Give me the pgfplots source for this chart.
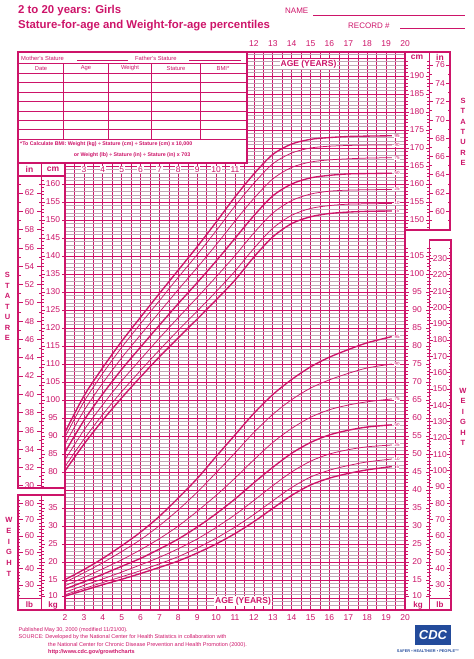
\documentclass[border=0pt]{standalone}
\usepackage{fontspec}
\setmainfont{Liberation Sans}
\usepackage{pgfplots}
\usepackage{pgfplotstable}
\pgfplotsset{compat=1.18}
\definecolor{cdcpink}{RGB}{205,20,105}
\definecolor{gridlt}{RGB}{192,165,182}
\definecolor{cdcblue}{RGB}{35,75,155}
\newcommand\fs[1]{\fontsize{#1}{#1}\selectfont}

% stature-for-age percentiles (cm)
\pgfplotstableread{
age  p5    p10   p25   p50   p75   p90   p95
2    80.3  81.5  83.4  85.5  87.7  89.7  91.0
3    87.7  89.1  91.6  94.3  97.0  99.5  101.1
4    94.4  96.0  98.7  101.7 104.7 107.4 109.0
5    100.6 102.3 105.3 108.5 111.7 114.6 116.3
6    106.4 108.2 111.3 114.7 118.1 121.2 123.0
7    112.0 113.9 117.2 120.8 124.4 127.6 129.6
8    117.3 119.4 122.9 126.8 130.7 134.1 136.1
9    122.5 124.7 128.5 132.6 136.8 140.4 142.6
10   127.8 130.1 134.2 138.6 143.1 147.0 149.4
11   133.3 135.8 140.1 144.9 149.7 153.9 156.4
12   139.7 142.1 146.4 151.2 156.0 160.2 162.8
13   145.3 147.7 151.9 156.7 161.4 165.6 168.2
14   149.0 151.3 155.4 160.0 164.6 168.6 171.1
15   150.9 153.2 157.2 161.7 166.1 170.0 172.4
16   151.8 154.0 158.0 162.4 166.7 170.5 172.9
17   152.2 154.4 158.3 162.8 167.0 170.7 173.2
18   152.4 154.5 158.4 162.9 167.2 170.8 173.3
19.3 152.5 154.6 158.5 163.0 167.3 170.8 173.4
}\stature

% weight-for-age percentiles (kg)
\pgfplotstableread{
age  p5   p10  p25  p50  p75  p90  p95
2    10.5 10.9 11.6 12.5 13.4 14.4 15.1
3    12.1 12.6 13.5 14.5 15.7 17.0 17.9
4    13.7 14.3 15.3 16.6 18.1 19.8 21.0
5    15.2 15.9 17.2 18.8 20.6 22.9 24.5
6    16.8 17.6 19.2 21.0 23.4 26.2 28.3
7    18.5 19.5 21.3 23.6 26.5 30.1 32.7
8    20.3 21.5 23.7 26.4 30.0 34.5 37.8
9    22.5 23.9 26.4 29.7 34.1 39.4 43.2
10   25.0 26.6 29.6 33.4 38.5 44.8 49.3
11   27.9 29.7 33.1 37.5 43.3 50.3 55.3
12   31.2 33.2 37.1 42.0 48.4 56.0 61.3
13   34.9 37.0 41.2 46.3 53.2 61.0 66.5
14   38.5 40.7 45.0 50.2 57.1 65.1 70.7
15   41.4 43.6 48.0 53.2 60.2 68.3 74.2
16   43.3 45.5 50.0 55.3 62.3 70.6 76.9
17   44.6 46.8 51.2 56.6 63.6 72.4 79.0
18   45.6 47.8 52.0 57.5 64.5 73.9 80.9
19.3 46.5 48.6 52.5 58.1 65.3 75.0 82.6
}\weight

\begin{document}
\begin{tikzpicture}[
  bold/.style={cdcpink, line width=1.35pt, smooth},
  thin/.style={cdcpink, line width=0.75pt, smooth},
  pct/.style={text=cdcpink, fill=white, inner sep=0.4pt, font=\fs{4.5}},
  lbl/.style={text=cdcpink, inner sep=0pt, font=\fs{8.5}},
  hd/.style={text=cdcpink, inner sep=0pt, font=\fs{8.5}\bfseries},
  tk/.style={draw=cdcpink, line width=0.6pt},
  fr/.style={draw=cdcpink, line width=1.2pt},
  vl/.style={text=cdcpink, inner sep=0pt, font=\fs{7.5}\bfseries}
]
\path[use as bounding box] (0,0) rectangle (474pt,659pt);

% stature grid and curves
\begin{axis}[
  at={(65pt,49pt)}, anchor=south west, scale only axis,
  width=340pt, height=558pt,
  xmin=2, xmax=20, ymin=41.6667, ymax=196.6667,
  xtick={2,...,20}, minor xtick={2.5,3.5,...,19.5},
  ytick={45,50,...,195}, minor ytick={42,43,...,196},
  xticklabels={}, yticklabels={},
  major tick length=0pt, minor tick length=0pt,
  grid=both,
  major x grid style={cdcpink, line width=0.65pt},
  minor x grid style={cdcpink, line width=0.35pt},
  major y grid style={cdcpink, line width=0.6pt},
  minor y grid style={gridlt, line width=0.35pt},
  axis line style={draw=none}
]
  \addplot[bold] table[x=age, y=p5]  {\stature};
  \addplot[thin] table[x=age, y=p10] {\stature};
  \addplot[thin] table[x=age, y=p25] {\stature};
  \addplot[bold] table[x=age, y=p50] {\stature};
  \addplot[thin] table[x=age, y=p75] {\stature};
  \addplot[thin] table[x=age, y=p90] {\stature};
  \addplot[bold] table[x=age, y=p95] {\stature};
  \node[pct] at (axis cs:19.58,173.4) {95};
  \node[pct] at (axis cs:19.58,170.8) {90};
  \node[pct] at (axis cs:19.58,167.3) {75};
  \node[pct] at (axis cs:19.58,163.0) {50};
  \node[pct] at (axis cs:19.58,158.5) {25};
  \node[pct] at (axis cs:19.58,154.6) {10};
  \node[pct] at (axis cs:19.62,152.5) {5};
\end{axis}

% weight curves
\begin{axis}[
  at={(65pt,49pt)}, anchor=south west, scale only axis,
  width=340pt, height=558pt,
  xmin=2, xmax=20, ymin=6.6667, ymax=161.6667, hide axis
]
  \addplot[bold] table[x=age, y=p5]  {\weight};
  \addplot[thin] table[x=age, y=p10] {\weight};
  \addplot[thin] table[x=age, y=p25] {\weight};
  \addplot[bold] table[x=age, y=p50] {\weight};
  \addplot[thin] table[x=age, y=p75] {\weight};
  \addplot[thin] table[x=age, y=p90] {\weight};
  \addplot[bold] table[x=age, y=p95] {\weight};
  \node[pct] at (axis cs:19.58,82.6) {95};
  \node[pct] at (axis cs:19.58,75.0) {90};
  \node[pct] at (axis cs:19.58,65.3) {75};
  \node[pct] at (axis cs:19.58,58.1) {50};
  \node[pct] at (axis cs:19.58,52.5) {25};
  \node[pct] at (axis cs:19.58,48.6) {10};
  \node[pct] at (axis cs:19.62,46.5) {5};
\end{axis}

\begin{scope}[shift={(0pt,659pt)}, x=1pt, y=-1pt]
  % titles
  \node[anchor=west, inner sep=0pt, text=cdcpink, font=\fs{11.4}\bfseries] at (18,11) {2 to 20 years: Girls};
  \node[anchor=west, inner sep=0pt, text=cdcpink, font=\fs{11.4}\bfseries] at (18,26) {Stature-for-age and Weight-for-age percentiles};
  \node[anchor=west, inner sep=0pt, text=cdcpink, font=\fs{8}] at (285,11) {NAME};
  \draw[cdcpink, line width=0.8pt] (313,15) -- (465,15);
  \node[anchor=west, inner sep=0pt, text=cdcpink, font=\fs{8}] at (348,26) {RECORD \#};
  \draw[cdcpink, line width=0.8pt] (400,28) -- (465,28);

  % ages
  \foreach \a in {12,...,20} \node[lbl] at ({65+(\a-2)*18.8889},44) {\a};
  \foreach \a in {2,...,20} \node[lbl] at ({65+(\a-2)*18.8889},618) {\a};
  \foreach \a in {3,...,11} \node[lbl, fill=white, inner sep=0.8pt] at ({65+(\a-2)*18.8889},169.5) {\a};
  \node[hd, fill=white, inner sep=1pt] at (308.5,64) {AGE (YEARS)};
  \node[hd, fill=white, inner sep=1pt] at (243,601) {AGE (YEARS)};

  % main frame
  \draw[fr] (65,52) rectangle (405,610);

  % record table
  \fill[white] (18,52) rectangle (247,163);
  \draw[fr] (18,52) rectangle (247,163);
  \draw[cdcpink, line width=0.7pt] (18,63.5) -- (247,63.5);
  \foreach \r in {0,...,7} \draw[cdcpink, line width=0.7pt] (18,{73.5+\r*9.35}) -- (247,{73.5+\r*9.35});
  \foreach \c in {63.3,108.3,151.7,200} \draw[cdcpink, line width=0.7pt] (\c,63.5) -- (\c,139);
  \begin{scope}[every node/.style={text=cdcpink, inner sep=0pt, font=\fs{5.8}}]
    \node[anchor=west] at (21,58) {Mother's Stature};
    \node[anchor=west] at (135,58) {Father's Stature};
    \node at (41,68.5) {Date};
    \node at (86,68.5) {Age};
    \node at (130,68.5) {Weight};
    \node at (176,68.5) {Stature};
    \node at (223,68.5) {BMI*};
  \end{scope}
  \draw[cdcpink, line width=0.5pt] (77,60.5) -- (128,60.5);
  \draw[cdcpink, line width=0.5pt] (189,60.5) -- (241,60.5);
  \node[anchor=west, inner sep=0pt, text=cdcpink, font=\fs{5.3}\bfseries] at (20,143.8)
    {*To Calculate BMI: Weight (kg) ÷ Stature (cm) ÷ Stature (cm) x 10,000};
  \node[inner sep=0pt, text=cdcpink, font=\fs{5.3}\bfseries] at (132,155)
    {or Weight (lb) ÷ Stature (in) ÷ Stature (in) x 703};

  % left stature strip
  \fill[white] (18,163) rectangle (65,488);
  \draw[fr] (18,163) rectangle (65,488);
  \draw[tk] (41,163) -- (41,488);
  \draw[fr] (18,176) -- (65,176);
  \node[hd] at (29.5,169.5) {in};
  \node[hd] at (53,169.5) {cm};
  \foreach \i in {31,33,...,63} {\draw[tk] (18,{760-9.144*\i}) -- ++(2.5,0); \draw[tk] (41,{760-9.144*\i}) -- ++(-2.5,0);}
  \foreach \i in {30,32,...,62} {\draw[tk] (18,{760-9.144*\i}) -- ++(4.5,0); \draw[tk] (41,{760-9.144*\i}) -- ++(-4.5,0);
    \node[lbl] at (29.5,{760-9.144*\i}) {\i};}
  \foreach \c in {76,...,161} \draw[tk] (41,{760-3.6*\c}) -- ++(2.5,0);
  \foreach \c in {80,85,...,160} {\draw[tk] (41,{760-3.6*\c}) -- ++(4,0); \draw[tk] (65,{760-3.6*\c}) -- ++(-3.5,0);
    \node[lbl] at (53,{760-3.6*\c}) {\c};}

  % left weight strip
  \fill[white] (18,495) rectangle (65,610);
  \draw[fr] (18,495) rectangle (65,610);
  \draw[tk] (41,495) -- (41,610);
  \draw[tk] (18,598) -- (41,598);
  \node[hd, font=\fs{8}\bfseries] at (29.5,604.5) {lb};
  \node[hd, font=\fs{8}\bfseries] at (53,605) {kg};
  \foreach \l in {24,26,...,82} {\draw[tk] (18,{634-1.63293*\l}) -- ++(2,0); \draw[tk] (41,{634-1.63293*\l}) -- ++(-2,0);}
  \foreach \l in {30,40,...,80} {\draw[tk] (18,{634-1.63293*\l}) -- ++(4.5,0); \draw[tk] (41,{634-1.63293*\l}) -- ++(-4.5,0);
    \node[lbl] at (29.5,{634-1.63293*\l}) {\l};}
  \foreach \k in {11,...,37} \draw[tk] (41,{634-3.6*\k}) -- ++(2.5,0);
  \foreach \k in {15,20,...,35} {\draw[tk] (41,{634-3.6*\k}) -- ++(4,0); \draw[tk] (65,{634-3.6*\k}) -- ++(-3.5,0);
    \node[lbl] at (53,{634-3.6*\k}) {\k};}
  \draw[tk] (41,596) -- ++(4,0); \draw[tk] (65,596) -- ++(-3.5,0);
  \node[lbl] at (53,595.5) {10};

  % right stature strip
  \fill[white] (406,52) rectangle (450,230);
  \draw[fr] (405,52) -- (450,52) -- (450,230) -- (405,230);
  \draw[tk] (429,52) -- (429,230);
  \node[hd] at (417,57) {cm};
  \node[hd] at (440,57) {in};
  \foreach \c in {148,...,194} {\draw[tk] (405,{760-3.6*\c}) -- ++(2.5,0); \draw[tk] (429,{760-3.6*\c}) -- ++(-2,0);}
  \foreach \c in {150,155,...,190} {\draw[tk] (405,{760-3.6*\c}) -- ++(4,0); \draw[tk] (429,{760-3.6*\c}) -- ++(-3.5,0);
    \node[lbl] at (417,{760-3.6*\c}) {\c};}
  \foreach \i in {59,61,...,75} {\draw[tk] (429,{760-9.144*\i}) -- ++(2.5,0); \draw[tk] (450,{760-9.144*\i}) -- ++(-2.5,0);}
  \foreach \i in {60,62,...,76} {\draw[tk] (429,{760-9.144*\i}) -- ++(4,0); \draw[tk] (450,{760-9.144*\i}) -- ++(-4,0);
    \node[lbl] at (440,{760-9.144*\i}) {\i};}

  % right weight strip
  \fill[white] (406,240) rectangle (451,610);
  \draw[fr] (429,240) -- (451,240) -- (451,610) -- (405,610);
  \draw[tk] (429,240) -- (429,610);
  \draw[tk] (429,598) -- (451,598);
  \node[hd, font=\fs{8}\bfseries] at (418,605) {kg};
  \node[hd, font=\fs{8}\bfseries] at (440,604.5) {lb};
  \foreach \k in {11,...,107} {\draw[tk] (405,{634-3.6*\k}) -- ++(2.5,0); \draw[tk] (429,{634-3.6*\k}) -- ++(-2,0);}
  \foreach \k in {15,20,...,105} {\draw[tk] (405,{634-3.6*\k}) -- ++(4,0); \draw[tk] (429,{634-3.6*\k}) -- ++(-3.5,0);
    \node[lbl] at (417,{634-3.6*\k}) {\k};}
  \draw[tk] (405,596) -- ++(4,0); \draw[tk] (429,596) -- ++(-3.5,0);
  \node[lbl] at (417,595.5) {10};
  \foreach \l in {24,26,...,236} {\draw[tk] (429,{634-1.63293*\l}) -- ++(2,0); \draw[tk] (451,{634-1.63293*\l}) -- ++(-2,0);}
  \foreach \l in {30,40,...,230} {\draw[tk] (429,{634-1.63293*\l}) -- ++(4,0); \draw[tk] (451,{634-1.63293*\l}) -- ++(-4,0);
    \node[lbl] at (440,{634-1.63293*\l}) {\l};}
  \draw[fr] (405,52) -- (405,610);

  % vertical words
  \foreach \t [count=\n from 0] in {S,T,A,T,U,R,E} {
    \node[vl] at (7.5,{275+10.5*\n}) {\t};
    \node[vl] at (463,{101+10.3*\n}) {\t};}
  \foreach \t [count=\n from 0] in {W,E,I,G,H,T} {
    \node[vl] at (9,{520+10.8*\n}) {\t};
    \node[vl] at (463,{391+10.4*\n}) {\t};}

  % footer
  \begin{scope}[every node/.style={anchor=west, inner sep=0pt, text=cdcpink, font=\fs{5.5}}]
    \node at (18.5,630) {Published May 30, 2000 (modified 11/21/00).};
    \node at (18.5,637.5) {SOURCE: Developed by the National Center for Health Statistics in collaboration with};
    \node at (48,645) {the National Center for Chronic Disease Prevention and Health Promotion (2000).};
    \node[font=\fs{5.5}\bfseries] at (48,652.5) {http://www.cdc.gov/growthcharts};
  \end{scope}

  % logo
  \fill[cdcblue] (415,625) rectangle (451,645);
  \node[text=white, inner sep=0pt, font=\fs{13}\bfseries\itshape] at (433,635) {CDC};
  \node[text=cdcblue, inner sep=0pt, font=\fs{3.9}\bfseries] at (428,651.5) {SAFER • HEALTHIER • PEOPLE™};
\end{scope}
\end{tikzpicture}
\end{document}
